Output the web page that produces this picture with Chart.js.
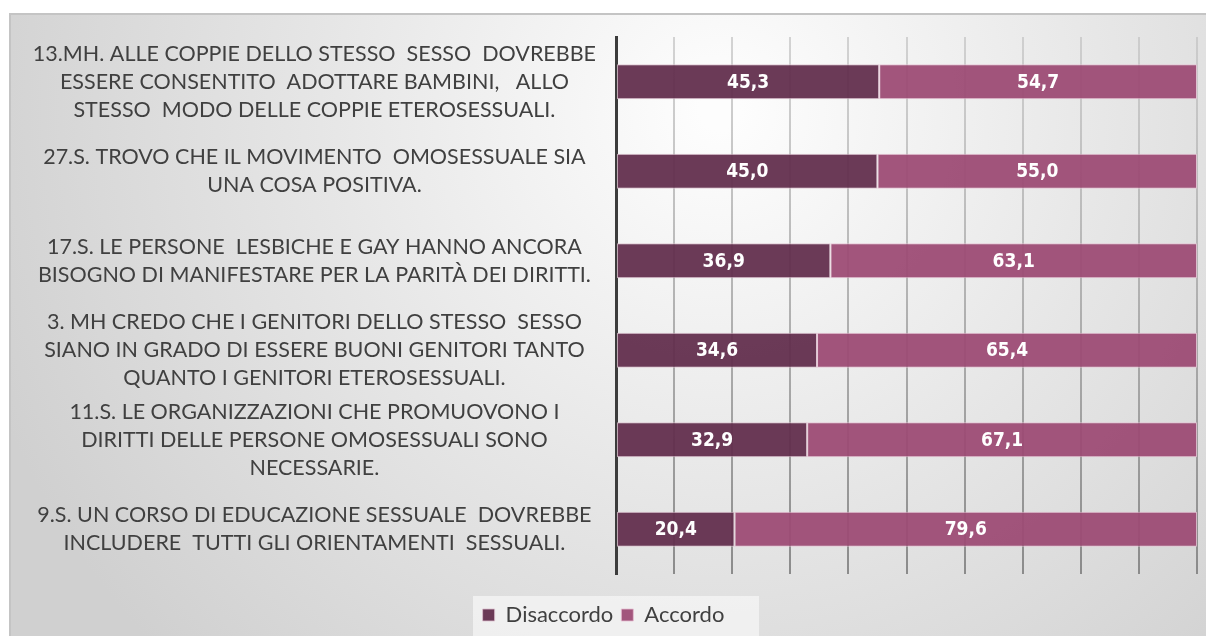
<!DOCTYPE html>
<html>
<head>
<meta charset="utf-8">
<script src="https://cdn.jsdelivr.net/npm/chart.js@4"></script>
<style>
  html, body { margin: 0; padding: 0; background: #fff; }
  #wrap { width: 1206px; height: 636px; }
</style>
</head>
<body>
<div id="wrap"><canvas id="chart" width="1206" height="636"></canvas></div>
<script>
// categories (top to bottom), as multi-line labels
const categories = [
    ['13.MH. ALLE COPPIE DELLO STESSO  SESSO  DOVREBBE', 'ESSERE CONSENTITO  ADOTTARE BAMBINI,   ALLO', 'STESSO  MODO DELLE COPPIE ETEROSESSUALI.'],
    ['27.S. TROVO CHE IL MOVIMENTO  OMOSESSUALE SIA', 'UNA COSA POSITIVA.'],
    ['17.S. LE PERSONE  LESBICHE E GAY HANNO ANCORA', 'BISOGNO DI MANIFESTARE PER LA PARITÀ DEI DIRITTI.'],
    ['3. MH CREDO CHE I GENITORI DELLO STESSO  SESSO', 'SIANO IN GRADO DI ESSERE BUONI GENITORI TANTO', 'QUANTO I GENITORI ETEROSESSUALI.'],
    ['11.S. LE ORGANIZZAZIONI CHE PROMUOVONO I', 'DIRITTI DELLE PERSONE OMOSESSUALI SONO', 'NECESSARIE.'],
    ['9.S. UN CORSO DI EDUCAZIONE SESSUALE  DOVREBBE', 'INCLUDERE  TUTTI GLI ORIENTAMENTI  SESSUALI.']
];
const disaccordo = [45.3, 45.0, 36.9, 34.6, 32.9, 20.4];
const accordo = [54.7, 55.0, 63.1, 65.4, 67.1, 79.6];
const seriesNames = ['Disaccordo', 'Accordo'];

const labelFont = 'Lato, "Open Sans", sans-serif';

// grey panel behind the chart
const panelBackground = {
    id: 'panelBackground',
    beforeDraw(chart) {
        const ctx = chart.ctx;
        ctx.save();
        ctx.fillStyle = '#ffffff';
        ctx.fillRect(0, 0, chart.width, chart.height);
        const g = ctx.createRadialGradient(720, 110, 20, 720, 110, 780);
        g.addColorStop(0, '#fdfdfd');
        g.addColorStop(0.5, '#e6e6e6');
        g.addColorStop(1, '#d0d0d0');
        ctx.fillStyle = g;
        ctx.fillRect(10, 14, chart.width - 10, chart.height - 14);
        ctx.strokeStyle = '#c4c4c4';
        ctx.lineWidth = 2;
        ctx.beginPath();
        ctx.moveTo(10, chart.height);
        ctx.lineTo(10, 14);
        ctx.lineTo(chart.width, 14);
        ctx.stroke();
        // lighter box behind legend
        ctx.fillStyle = 'rgba(245,245,245,0.75)';
        ctx.fillRect(473, 596, 286, 40);
        ctx.restore();
    }
};

// values written in the middle of each bar segment
const barValues = {
    id: 'barValues',
    afterDatasetsDraw(chart) {
        const ctx = chart.ctx;
        ctx.save();
        ctx.fillStyle = '#ffffff';
        ctx.font = 'bold 19px "DejaVu Sans Condensed", "DejaVu Sans", sans-serif';
        ctx.textAlign = 'center';
        ctx.textBaseline = 'middle';
        chart.data.datasets.forEach((ds, di) => {
            chart.getDatasetMeta(di).data.forEach((bar, i) => {
                const x = (bar.x + bar.base) / 2;
                ctx.fillText(ds.data[i].toFixed(1).replace('.', ','), x, bar.y + 1);
            });
        });
        ctx.restore();
    }
};

const ctx = document.getElementById('chart');
new Chart(ctx, {
    type: 'bar',
    data: {
        labels: categories,
        datasets: [{
            label: seriesNames[0],
            data: disaccordo,
            backgroundColor: 'rgba(98, 46, 76, 0.94)',
            borderColor: 'rgba(220, 190, 205, 0.8)',
            borderWidth: 1,
            borderSkipped: false,
            categoryPercentage: 1,
            barPercentage: 0.39
        }, {
            label: seriesNames[1],
            data: accordo,
            backgroundColor: 'rgba(156, 74, 116, 0.94)',
            borderColor: 'rgba(230, 190, 210, 0.8)',
            borderWidth: 1,
            borderSkipped: false,
            categoryPercentage: 1,
            barPercentage: 0.39
        }]
    },
    options: {
        indexAxis: 'y',
        responsive: false,
        animation: false,
        layout: { padding: { left: 10, top: 37, right: 9, bottom: 0 } },
        plugins: {
            tooltip: { enabled: false },
            legend: {
                position: 'bottom',
                labels: {
                    color: '#404040',
                    font: { family: labelFont, size: 22 },
                    boxWidth: 12,
                    boxHeight: 12,
                    padding: 8
                }
            }
        },
        scales: {
            x: {
                stacked: true,
                min: 0,
                max: 100,
                afterFit(scale) { scale.height = 22; },
                ticks: { display: false, stepSize: 10 },
                border: { display: false },
                grid: {
                    lineWidth: 2,
                    drawTicks: false,
                    color: (c) => {
                        const area = c.chart.chartArea;
                        if (!area) return '#cccccc';
                        const g = c.chart.ctx.createLinearGradient(0, area.top, 0, area.bottom);
                        g.addColorStop(0, 'rgba(195,195,195,0.7)');
                        g.addColorStop(1, 'rgba(130,130,130,0.9)');
                        return g;
                    }
                }
            },
            y: {
                stacked: true,
                afterFit(scale) {
                    scale.width = 606;
                    scale.paddingTop = 0;
                    scale.paddingBottom = 0;
                },
                border: { display: true, color: '#3c3c3c', width: 3 },
                grid: { display: false },
                ticks: {
                    color: '#404040',
                    crossAlign: 'center',
                    padding: 12,
                    font: { family: labelFont, size: 21.5, lineHeight: 1.3 }
                }
            }
        }
    },
    plugins: [panelBackground, barValues]
});
</script>
</body>
</html>
